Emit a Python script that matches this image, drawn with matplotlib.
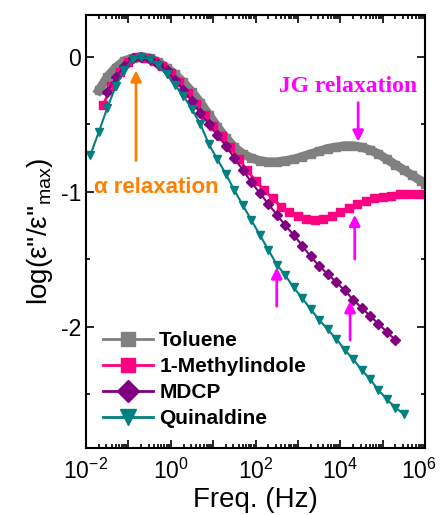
import numpy as np
import matplotlib
matplotlib.use("Agg")
import matplotlib.pyplot as plt
import matplotlib.transforms as mtransforms
from matplotlib.ticker import LogLocator, FuncFormatter, MultipleLocator, NullFormatter

plt.rcParams['font.family'] = ['Liberation Sans', 'DejaVu Sans']
plt.rcParams['mathtext.fontset'] = 'custom'
plt.rcParams['mathtext.rm'] = 'Liberation Sans'
plt.rcParams['mathtext.it'] = 'Liberation Sans:italic'
plt.rcParams['mathtext.bf'] = 'Liberation Sans:bold'
plt.rcParams['axes.unicode_minus'] = False

# ---- data (log10 frequency, log(eps''/eps''max)) ----
tol_logf = [-1.7, -1.5, -1.3, -1.1, -0.9, -0.7, -0.5, -0.3, -0.1, 0.1, 0.3, 0.5, 0.7, 0.9,
            1.1, 1.3, 1.5, 1.7, 1.9, 2.1, 2.3, 2.5, 2.7, 2.9, 3.1, 3.3, 3.5, 3.7, 3.9,
            4.1, 4.3, 4.5, 4.7, 4.9, 5.1, 5.3, 5.5, 5.7, 5.9, 6.0]
tol_y = [-0.25, -0.15, -0.08, -0.03, -0.01, 0.00, -0.01, -0.04, -0.08, -0.13, -0.19, -0.26, -0.34, -0.43,
         -0.52, -0.60, -0.67, -0.72, -0.75, -0.77, -0.78, -0.78, -0.77, -0.76, -0.74, -0.72, -0.70, -0.68, -0.67,
         -0.66, -0.66, -0.67, -0.69, -0.72, -0.76, -0.80, -0.84, -0.88, -0.92, -0.94]

mi_logf = [-1.6, -1.4, -1.2, -1.0, -0.8, -0.6, -0.4, -0.2, 0.0, 0.2, 0.4, 0.6, 0.8, 1.0,
           1.2, 1.4, 1.6, 1.8, 2.0, 2.2, 2.4, 2.6, 2.8, 3.0, 3.2, 3.4, 3.6, 3.8, 4.0,
           4.2, 4.4, 4.6, 4.8, 5.0, 5.2, 5.4, 5.6, 5.8, 6.0]
mi_y = [-0.36, -0.22, -0.11, -0.04, 0.00, -0.01, -0.03, -0.07, -0.12, -0.19, -0.27, -0.35, -0.43, -0.51,
        -0.59, -0.67, -0.76, -0.84, -0.92, -0.99, -1.05, -1.11, -1.15, -1.18, -1.20, -1.21, -1.20, -1.18, -1.15,
        -1.12, -1.09, -1.07, -1.05, -1.04, -1.03, -1.02, -1.02, -1.02, -1.02]

mdcp_logf = [-1.5, -1.3, -1.1, -0.9, -0.7, -0.5, -0.3, -0.1, 0.1, 0.3, 0.5, 0.7, 0.9, 1.1,
             1.3, 1.5, 1.7, 1.9, 2.1, 2.3, 2.5, 2.7, 2.9, 3.1, 3.3, 3.5, 3.7, 3.9, 4.1,
             4.3, 4.5, 4.7, 4.9, 5.1, 5.3]
mdcp_y = [-0.26, -0.15, -0.07, -0.01, 0.00, -0.02, -0.05, -0.10, -0.17, -0.25, -0.33, -0.42, -0.50, -0.58,
          -0.66, -0.75, -0.84, -0.93, -1.01, -1.09, -1.17, -1.25, -1.32, -1.40, -1.48, -1.55, -1.61, -1.67, -1.73,
          -1.80, -1.86, -1.92, -1.98, -2.04, -2.10]

qui_logf = [-1.9, -1.7, -1.5, -1.3, -1.1, -0.9, -0.7, -0.5, -0.3, -0.1, 0.1, 0.3, 0.5, 0.7,
            0.9, 1.1, 1.3, 1.5, 1.7, 1.9, 2.1, 2.3, 2.5, 2.7, 2.9, 3.1, 3.3, 3.5, 3.7,
            3.9, 4.1, 4.3, 4.5, 4.7, 4.9, 5.1, 5.3, 5.5]
qui_y = [-0.73, -0.56, -0.38, -0.22, -0.10, -0.02, 0.00, -0.02, -0.06, -0.13, -0.21, -0.29, -0.39, -0.50,
         -0.65, -0.76, -0.87, -0.99, -1.10, -1.21, -1.32, -1.43, -1.54, -1.62, -1.71, -1.79, -1.87, -1.95, -2.02,
         -2.09, -2.17, -2.24, -2.32, -2.39, -2.47, -2.54, -2.60, -2.65]

labels = ["Toluene", "1-Methylindole", "MDCP", "Quinaldine"]
colors = ["#808080", "#FF0080", "#800080", "#008080"]

fig = plt.figure(figsize=(4.41, 5.15), dpi=100)
ax = fig.add_axes([0.195, 0.130, 0.769, 0.841])

f = lambda L: 10.0 ** np.array(L)
ax.plot(f(tol_logf), tol_y, '-s', color=colors[0], lw=6.5, ms=5.5, label=labels[0])
ax.plot(f(mi_logf), mi_y, '-s', color=colors[1], lw=2, ms=5.5, label=labels[1])
ax.plot(f(mdcp_logf), mdcp_y, '-D', color=colors[2], lw=1.5, ms=5, label=labels[2])
ax.plot(f(qui_logf), qui_y, '-v', color=colors[3], lw=1.5, ms=6, label=labels[3])

ax.set_xscale('log')
ax.set_xlim(1e-2, 1e6)
ax.set_ylim(-2.9, 0.31)

ax.xaxis.set_major_locator(LogLocator(base=10, subs=(1.0,), numticks=20))
ax.xaxis.set_minor_locator(LogLocator(base=10, subs=np.arange(2, 10), numticks=20))
ax.xaxis.set_minor_formatter(NullFormatter())

def xfmt(v, pos):
    e = int(round(np.log10(v)))
    if e % 2 == 0:
        return r'$10^{%d}$' % e
    return ''
ax.xaxis.set_major_formatter(FuncFormatter(xfmt))
ax.yaxis.set_major_locator(MultipleLocator(1))
ax.yaxis.set_minor_locator(MultipleLocator(0.5))
ax.yaxis.set_major_formatter(FuncFormatter(lambda v, p: '%d' % round(v)))

ax.tick_params(which='both', direction='in', top=True, right=True, labelsize=16.5, width=1.2)
ax.tick_params(which='major', length=6)
ax.tick_params(which='minor', length=3)
ax.tick_params(axis='x', pad=8)
for s in ax.spines.values():
    s.set_linewidth(1.5)

ax.set_xlabel('Freq. (Hz)', fontsize=20, labelpad=2)
ax.set_ylabel("log(ε''/ε''$_{\\rm max}$)", fontsize=20, labelpad=4)

leg = ax.legend(loc='upper left', bbox_to_anchor=(0.05, 0.27), frameon=False,
                prop={'weight': 'bold', 'size': 15}, handlelength=2.4, handletextpad=0.3,
                labelspacing=0.34, borderpad=0, borderaxespad=0)
for h, ms in zip(leg.legend_handles, [10, 10, 11, 11]):
    h.set_markersize(ms)
    h.set_linewidth(2)

# annotations
orange = "#FF8000"
mag = "#FF00FF"
ax.annotate('', xy=(10**-0.82, -0.08), xytext=(10**-0.82, -0.79),
            arrowprops=dict(arrowstyle='-|>', color=orange, lw=2, mutation_scale=16))
ax.text(10**-1.8, -0.97, 'α relaxation', color=orange, fontsize=16, fontweight='bold',
        va='center', ha='left')
ax.text(10**4.18, -0.22, 'JG relaxation', color=mag, fontsize=17, fontweight='bold',
        family=['Liberation Serif'], va='center', ha='center')
arrows = [((4.42, -0.65), (4.42, -0.32)),
          ((4.34, -1.15), (4.34, -1.52)),
          ((2.5, -1.54), (2.5, -1.87)),
          ((4.23, -1.79), (4.23, -2.12))]
for tip, tail in arrows:
    ax.annotate('', xy=(10**tip[0], tip[1]), xytext=(10**tail[0], tail[1]),
                arrowprops=dict(arrowstyle='-|>', color=mag, lw=2, mutation_scale=16))

# keep the last x tick label (10^6) inside the figure
fig.canvas.draw()
for t in ax.xaxis.get_major_ticks():
    if abs(np.log10(t.get_loc()) - 6) < 1e-6:
        lab = t.label1
        lab.set_transform(lab.get_transform() +
                          mtransforms.ScaledTranslation(-6 / 100, 0, fig.dpi_scale_trans))

fig.savefig('out.png', dpi=100)
